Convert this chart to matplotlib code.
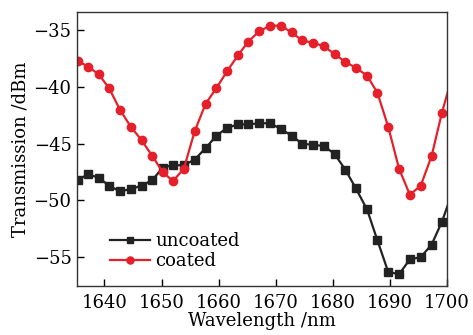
import matplotlib
matplotlib.use('Agg')
import matplotlib.pyplot as plt

# Wavelength samples (nm)
wavelength = [1635.3, 1637.1, 1639.0, 1640.8, 1642.7, 1644.6, 1646.5, 1648.4, 1650.2,
              1652.0, 1653.9, 1655.8, 1657.7, 1659.6, 1661.5, 1663.4, 1665.2, 1667.1,
              1669.0, 1670.9, 1672.8, 1674.6, 1676.5, 1678.4, 1680.3, 1682.2, 1684.0,
              1686.0, 1687.8, 1689.7, 1691.6, 1693.5, 1695.4, 1697.3, 1699.1, 1701.0]

# Transmission (dBm)
uncoated = [-48.2, -47.7, -48.0, -48.7, -49.2, -49.0, -48.7, -48.2, -47.1,
            -46.9, -46.9, -46.4, -45.4, -44.3, -43.6, -43.3, -43.3, -43.2,
            -43.2, -43.7, -44.3, -45.0, -45.1, -45.2, -45.9, -47.3, -48.9,
            -50.8, -53.5, -56.3, -56.5, -55.2, -55.0, -53.9, -51.9, -49.2]
coated = [-37.7, -38.2, -38.9, -40.1, -42.0, -43.5, -44.7, -46.1, -47.5,
          -48.3, -47.2, -43.9, -41.5, -40.1, -38.6, -37.2, -36.0, -35.1,
          -34.6, -34.6, -35.2, -35.9, -36.1, -36.4, -37.1, -37.8, -38.3,
          -39.0, -40.5, -43.5, -47.2, -49.5, -48.7, -46.1, -42.3, -38.9]

xticks = [1640, 1650, 1660, 1670, 1680, 1690, 1700]
yticks = [-55, -50, -45, -40, -35]

plt.rcParams['font.family'] = ['DejaVu Serif']
plt.rcParams['font.size'] = 13

fig = plt.figure(figsize=(4.73, 3.35), dpi=100)
ax = fig.add_axes([0.163, 0.146, 0.782, 0.818])

ax.plot(wavelength, uncoated, color='#222222', lw=1.6, marker='s', ms=5.5,
        label='uncoated')
ax.plot(wavelength, coated, color='#e5202a', lw=1.6, marker='o', ms=6,
        label='coated')

ax.set_xlim(1635.2, 1700)
ax.set_ylim(-57.55, -33.4)
ax.set_xticks(xticks)
ax.set_yticks(yticks)
ax.tick_params(direction='in', length=5, width=1, labelsize=13, pad=4)
ax.tick_params(axis='x', pad=6)
for s in ax.spines.values():
    s.set_linewidth(1.0)
    s.set_color('#333333')

ax.set_xlabel('Wavelength /nm', fontsize=13, labelpad=0)
ax.set_ylabel('Transmission /dBm', fontsize=13, labelpad=3)

ax.legend(loc='lower left', bbox_to_anchor=(0.045, 0.0), frameon=False,
          numpoints=1, handlelength=2.2, handletextpad=0.3, labelspacing=0.1,
          fontsize=13, markerscale=0.85)

fig.savefig('out.png', dpi=100)
